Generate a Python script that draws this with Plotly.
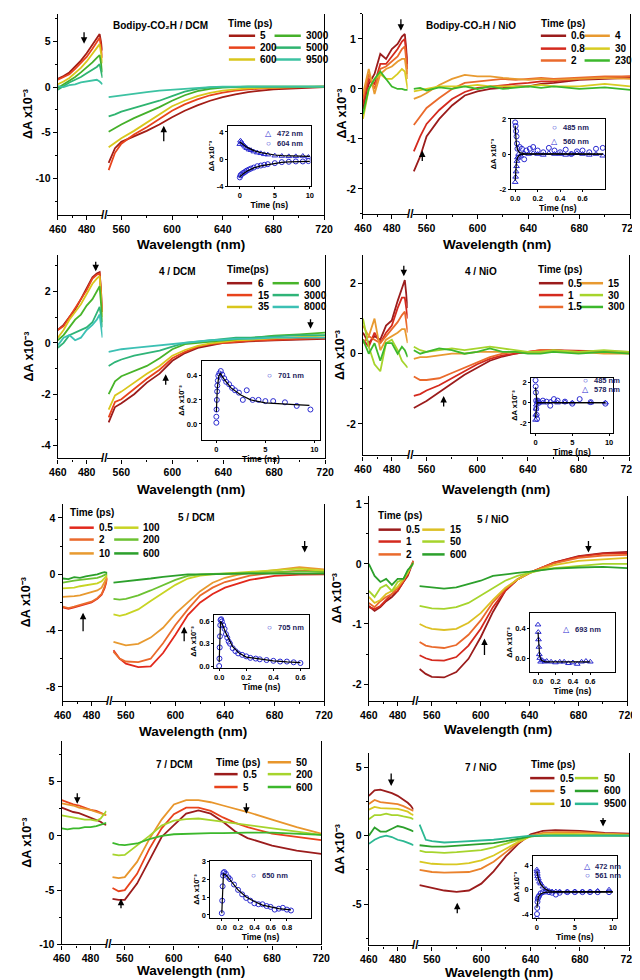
import plotly.graph_objects as go

W, H = 640, 980
FONT = "Liberation Sans, Arial, Helvetica, sans-serif"
BLUE = "#2a2ad0"
NAVY = "#1c1c5c"
YTITLE = "ΔA x10⁻³"

# ---------------- shared wavelength grids ----------------
WL_L = [460, 464, 468, 472, 476, 480, 484, 487, 489, 491]
WL_R = [550, 555, 560, 570, 580, 590, 600, 610, 620, 630, 640, 650, 660, 680, 700, 720]
X_TICKS_L = [460, 480]
X_MINOR_L = [470]
X_TICKS_R = [560, 600, 640, 680, 720]
X_MINOR_R = [580, 620, 660, 700]

# ---------------- Panel 1: Bodipy-CO2H / DCM ----------------
P1_TIMES = ["5", "200", "600", "3000", "5000", "9500"]
P1_LEFT = [
    [0.9, 1.2, 1.6, 2.2, 2.9, 3.7, 4.6, 5.3, 5.8, 4.0],
    [0.8, 1.1, 1.4, 2.0, 2.6, 3.3, 4.2, 4.9, 5.4, 3.2],
    [0.3, 0.6, 1.0, 1.5, 2.1, 2.8, 3.6, 4.3, 4.7, 2.6],
    [-0.1, 0.3, 0.7, 1.1, 1.6, 2.1, 2.7, 3.2, 3.5, 1.6],
    [-0.3, 0.1, 0.5, 0.8, 1.1, 1.5, 1.9, 2.2, 2.5, 1.0],
    [0.1, 0.0, 0.2, 0.3, 0.5, 0.6, 0.7, 0.8, 0.6, 0.3],
]
P1_RIGHT = [
    [-8.3, -6.7, -6.0, -5.4, -4.8, -4.1, -3.3, -2.6, -2.0, -1.5, -1.1, -0.8, -0.55, -0.25, -0.1, 0.0],
    [-9.1, -7.2, -6.2, -5.2, -4.4, -3.5, -2.6, -1.9, -1.35, -0.9, -0.6, -0.4, -0.25, -0.1, 0.0, 0.05],
    [-6.6, -6.1, -5.6, -4.8, -3.9, -3.0, -2.1, -1.5, -1.0, -0.65, -0.4, -0.25, -0.15, -0.05, 0.0, 0.05],
    [-4.9, -4.5, -4.1, -3.4, -2.8, -2.2, -1.5, -0.9, -0.45, -0.2, -0.05, 0.0, 0.05, 0.05, 0.05, 0.05],
    [-3.2, -3.0, -2.7, -2.3, -1.9, -1.5, -1.0, -0.5, -0.2, -0.05, 0.0, 0.05, 0.05, 0.05, 0.05, 0.05],
    [-1.1, -1.0, -0.9, -0.7, -0.55, -0.4, -0.3, -0.15, -0.05, 0.0, 0.05, 0.05, 0.05, 0.05, 0.05, 0.05],
]
P1_YTICKS = [-10, -5, 0, 5]

I1_T = [0, 0.1, 0.2, 0.4, 0.6, 0.8, 1.0, 1.3, 1.6, 2.0, 2.5, 3.0, 3.5, 4.0, 5.0, 6.0, 7.0, 8.0, 9.0, 9.8]
I1_472 = [2.2, 2.7, 2.5, 2.2, 2.0, 1.8, 1.6, 1.4, 1.3, 1.1, 0.95, 0.85, 0.7, 0.65, 0.5, 0.45, 0.4, 0.4, 0.45, 0.3]
I1_604 = [-2.7, -2.4, -2.3, -2.1, -2.0, -1.85, -1.7, -1.55, -1.4, -1.25, -1.05, -0.95, -0.85, -0.75, -0.6, -0.45, -0.4, -0.35, -0.35, -0.3]
I1_FIT_T = [0, 0.2, 0.5, 1, 1.5, 2, 3, 4, 5, 6, 7, 8, 9, 10]
I1_FIT_472 = [2.5, 2.35, 2.1, 1.75, 1.5, 1.25, 0.95, 0.75, 0.6, 0.5, 0.45, 0.42, 0.4, 0.4]
I1_FIT_604 = [-2.6, -2.4, -2.15, -1.8, -1.55, -1.3, -1.0, -0.8, -0.62, -0.5, -0.42, -0.38, -0.35, -0.33]

# ---------------- Panel 2: Bodipy-CO2H / NiO ----------------
P2_TIMES = ["0.6", "0.8", "2", "4", "30", "230"]
P2_LEFT = [
    [-0.4, 0.1, 0.3, 0.7, 0.6, 0.8, 0.9, 1.05, 1.1, 0.5],
    [-0.3, 0.2, 0.1, 0.5, 0.5, 0.65, 0.8, 0.95, 1.0, 0.4],
    [-0.2, 0.3, 0.0, 0.4, 0.45, 0.55, 0.65, 0.8, 0.85, 0.3],
    [-0.1, 0.4, -0.1, 0.3, 0.4, 0.45, 0.55, 0.6, 0.6, 0.2],
    [-0.6, 0.0, 0.2, 0.3, 0.2, 0.2, 0.3, 0.4, 0.35, 0.0],
    [-0.5, 0.0, 0.2, 0.35, 0.2, 0.05, 0.0, 0.0, -0.02, -0.02],
]
P2_RIGHT = [
    [-1.65, -1.35, -0.95, -0.6, -0.33, -0.13, -0.05, 0.0, 0.02, 0.05, 0.05, 0.1, 0.12, 0.18, 0.2, 0.22],
    [-1.25, -0.95, -0.7, -0.42, -0.2, -0.06, 0.02, 0.05, 0.08, 0.1, 0.12, 0.15, 0.15, 0.2, 0.22, 0.25],
    [-0.72, -0.55, -0.38, -0.18, 0.0, 0.12, 0.15, 0.18, 0.2, 0.18, 0.2, 0.22, 0.2, 0.22, 0.25, 0.25],
    [-0.2, -0.15, -0.08, 0.08, 0.2, 0.28, 0.25, 0.25, 0.22, 0.2, 0.18, 0.2, 0.18, 0.2, 0.22, 0.2],
    [-0.05, -0.02, 0.0, 0.05, 0.05, 0.05, 0.08, 0.05, 0.05, 0.05, 0.05, 0.08, 0.05, 0.05, 0.1, 0.05],
    [0.0, 0.02, -0.03, 0.03, 0.0, 0.05, 0.0, 0.05, 0.0, 0.03, 0.05, 0.02, 0.05, 0.0, 0.03, -0.02],
]
P2_YTICKS = [-2, -1, 0, 1]

I2_T485 = [0, 0.004, 0.008, 0.012, 0.016, 0.02, 0.03, 0.04, 0.06, 0.08, 0.1, 0.13, 0.16, 0.2, 0.25, 0.3, 0.35, 0.4, 0.45, 0.5, 0.55, 0.6, 0.66, 0.72, 0.78]
I2_485 = [1.8, 1.6, 1.3, 1.0, 0.6, 0.3, -0.2, 0.4, 0.3, -0.3, 0.2, 0.3, 0.4, 0.2, 0.1, 0.35, 0.2, 0.1, 0.25, 0.0, 0.15, 0.2, 0.1, 0.3, 0.35]
I2_T560 = [0, 0.004, 0.008, 0.012, 0.016, 0.02, 0.03, 0.05, 0.08, 0.12, 0.16, 0.2, 0.25, 0.3, 0.35, 0.4, 0.45, 0.5, 0.55, 0.6, 0.66, 0.72, 0.78]
I2_560 = [-1.6, -1.3, -1.0, -0.7, -0.4, -0.2, 0.0, -0.1, 0.05, 0.0, 0.05, 0.0, -0.05, 0.05, 0.0, 0.0, -0.05, 0.0, 0.05, 0.0, -0.05, 0.0, -0.1]
I2_FIT_T = [0, 0.005, 0.01, 0.02, 0.04, 0.08, 0.78]
I2_FIT_485 = [1.6, 1.0, 0.6, 0.25, 0.08, 0.02, 0.0]
I2_FIT_560 = [-1.5, -0.9, -0.55, -0.2, -0.05, 0.0, 0.0]

# ---------------- Panel 3: 4 / DCM ----------------
P3_TIMES = ["6", "15", "35", "600", "3000", "8000"]
P3_LEFT = [
    [0.5, 0.7, 1.0, 1.3, 1.7, 2.1, 2.55, 2.7, 2.75, 1.2],
    [0.5, 0.65, 1.0, 1.35, 1.7, 2.05, 2.5, 2.65, 2.7, 1.2],
    [0.2, 0.5, 0.9, 1.2, 1.5, 1.9, 2.3, 2.5, 2.6, 1.0],
    [0.1, 0.3, 0.6, 0.9, 1.1, 1.45, 1.7, 2.0, 2.2, 0.8],
    [-0.2, 0.0, 0.3, 0.4, 0.5, 0.6, 0.8, 1.2, 1.4, 0.6],
    [-0.1, 0.2, 0.3, 0.1, 0.2, 0.5, 0.7, 0.9, 1.1, 0.2],
]
P3_RIGHT = [
    [-3.1, -2.5, -2.35, -2.0, -1.55, -1.2, -0.7, -0.4, -0.2, -0.1, 0.0, 0.02, 0.06, 0.1, 0.12, 0.15],
    [-2.9, -2.3, -2.2, -1.8, -1.4, -1.05, -0.6, -0.35, -0.15, -0.05, 0.0, 0.05, 0.08, 0.12, 0.15, 0.18],
    [-2.6, -2.05, -1.9, -1.55, -1.2, -0.9, -0.5, -0.28, -0.12, -0.02, 0.05, 0.1, 0.12, 0.18, 0.22, 0.28],
    [-2.0, -1.5, -1.3, -1.1, -0.9, -0.6, -0.25, -0.05, 0.0, 0.05, 0.1, 0.15, 0.2, 0.28, 0.33, 0.4],
    [-0.9, -0.75, -0.65, -0.5, -0.4, -0.3, -0.15, 0.0, 0.05, 0.1, 0.15, 0.2, 0.2, 0.25, 0.3, 0.3],
    [-0.35, -0.3, -0.25, -0.2, -0.15, -0.1, -0.05, 0.0, 0.05, 0.1, 0.12, 0.15, 0.15, 0.2, 0.2, 0.2],
]
P3_YTICKS = [-4, -2, 0, 2]

I3_T = [0, 0, 0.02, 0.05, 0.08, 0.1, 0.15, 0.2, 0.3, 0.45, 0.6, 0.8, 1.0, 1.3, 1.6, 1.9, 2.3, 2.7, 3.1, 3.7, 4.3, 5.0, 5.8, 7.0, 8.2, 9.6]
I3_701 = [0.01, 0.06, 0.12, 0.2, 0.27, 0.32, 0.36, 0.4, 0.42, 0.44, 0.41, 0.38, 0.35, 0.33, 0.3, 0.28, 0.26, 0.2, 0.28, 0.2, 0.2, 0.19, 0.19, 0.18, 0.15, 0.12]
I3_FIT_T = [0, 0.1, 0.25, 0.4, 0.8, 1.5, 2.5, 3.5, 5, 6.5, 8, 9.5]
I3_FIT_701 = [0.1, 0.3, 0.4, 0.42, 0.37, 0.3, 0.24, 0.2, 0.175, 0.165, 0.16, 0.155]

# ---------------- Panel 4: 4 / NiO ----------------
P4_TIMES = ["0.5", "1", "1.5", "15", "30", "300"]
P4_LEFT = [
    [0.6, 0.3, 0.5, 0.4, 0.8, 0.95, 1.5, 1.9, 2.1, 1.3],
    [0.4, 0.2, 0.6, 0.3, 0.6, 0.8, 1.3, 1.6, 1.6, 1.0],
    [0.3, 0.5, 0.4, 0.3, 0.5, 0.7, 0.9, 1.1, 1.2, 0.6],
    [0.8, 0.5, 1.0, 0.1, 0.4, 0.5, 0.6, 0.7, 0.7, 0.3],
    [1.0, 0.2, -0.3, -0.5, 0.3, 0.4, 0.1, -0.2, -0.3, -0.4],
    [0.4, 0.0, 0.3, -0.2, 0.3, 0.3, 0.0, 0.2, 0.1, -0.1],
]
P4_RIGHT = [
    [-1.55, -1.45, -1.35, -1.1, -0.85, -0.6, -0.4, -0.2, -0.08, 0.0, 0.05, 0.05, 0.1, 0.05, 0.05, 0.05],
    [-1.2, -1.15, -1.05, -0.9, -0.7, -0.5, -0.3, -0.15, -0.05, 0.0, 0.05, 0.1, 0.1, 0.08, 0.05, 0.05],
    [-0.65, -0.75, -0.75, -0.7, -0.55, -0.4, -0.25, -0.1, 0.0, 0.05, 0.05, 0.1, 0.1, 0.05, 0.05, 0.05],
    [-0.15, -0.1, -0.1, -0.05, 0.0, 0.0, 0.05, 0.05, 0.05, 0.05, 0.05, 0.05, 0.05, 0.05, 0.0, 0.0],
    [0.2, 0.1, 0.05, 0.1, 0.15, 0.1, 0.15, 0.2, 0.15, 0.1, 0.05, 0.05, 0.1, 0.05, 0.1, 0.05],
    [0.1, 0.0, 0.05, 0.15, 0.1, 0.0, 0.05, 0.15, 0.05, 0.05, 0.0, 0.0, 0.05, 0.0, 0.05, 0.0],
]
P4_YTICKS = [-2, 0, 2]

I4_T485 = [0, 0.02, 0.05, 0.08, 0.1, 0.15, 0.2, 0.3, 0.5, 1.0, 1.5, 2.0, 2.5, 3.0, 4.0, 5.0, 6.0, 7.5, 9.5]
I4_485 = [2.2, 1.6, 1.0, 0.2, -0.6, -1.2, -1.6, 0.2, 0.0, 0.2, 0.1, -0.3, 0.35, 0.2, 0.1, -0.1, 0.35, 0.05, -0.1]
I4_T578 = [0, 0.03, 0.06, 0.1, 0.2, 0.3, 0.6, 1.0, 2.0, 3.0, 4.0, 5.0, 7.5, 9.5]
I4_578 = [-1.7, -1.2, -0.6, -0.2, 0.1, 0.0, 0.05, 0.0, 0.1, 0.0, 0.05, 0.0, 0.0, 0.0]
I4_FIT_T = [0, 0.05, 0.1, 0.2, 0.3, 9.5]
I4_FIT_485 = [1.5, 0.8, 0.3, 0.05, 0.0, 0.0]
I4_FIT_578 = [-1.5, -0.8, -0.3, -0.05, 0.0, 0.0]

# ---------------- Panel 5: 5 / DCM ----------------
P5_TIMES = ["0.5", "2", "10", "100", "200", "600"]
P5_LEFT = [
    [-2.35, -2.45, -2.35, -2.25, -2.15, -2.0, -1.75, -1.45, -1.0, -0.3],
    [-2.3, -2.4, -2.3, -2.2, -2.1, -1.95, -1.7, -1.4, -0.9, -0.25],
    [-1.6, -1.6, -1.55, -1.5, -1.4, -1.3, -1.15, -0.95, -0.6, -0.15],
    [-1.0, -1.0, -0.95, -0.85, -0.8, -0.75, -0.65, -0.5, -0.3, -0.05],
    [-0.6, -0.5, -0.45, -0.4, -0.35, -0.3, -0.25, -0.15, -0.05, 0.05],
    [-0.3, -0.35, -0.2, -0.25, -0.15, -0.1, 0.0, 0.1, 0.15, 0.1],
]
P5_RIGHT = [
    [-5.4, -6.0, -6.35, -6.6, -6.55, -5.6, -4.3, -2.9, -2.0, -1.4, -0.95, -0.65, -0.4, -0.12, -0.02, 0.0],
    [-5.5, -6.0, -6.2, -6.25, -6.0, -4.9, -3.6, -2.5, -1.5, -0.95, -0.55, -0.3, -0.1, 0.12, 0.25, 0.2],
    [-4.8, -4.95, -5.05, -4.95, -4.5, -3.8, -2.8, -2.0, -1.2, -0.6, -0.25, -0.05, 0.1, 0.3, 0.5, 0.35],
    [-2.85, -2.95, -2.85, -2.5, -1.9, -1.3, -0.75, -0.3, -0.1, 0.0, 0.05, 0.1, 0.15, 0.3, 0.4, 0.25],
    [-1.75, -1.8, -1.75, -1.5, -1.15, -0.75, -0.4, -0.12, 0.0, 0.02, 0.05, 0.1, 0.1, 0.15, 0.2, 0.15],
    [-0.6, -0.55, -0.55, -0.45, -0.3, -0.18, -0.08, 0.0, 0.0, 0.02, 0.05, 0.05, 0.05, 0.05, 0.05, 0.05],
]
P5_YTICKS = [-8, -4, 0, 4]

I5_T = [0, 0.002, 0.004, 0.006, 0.008, 0.01, 0.015, 0.02, 0.03, 0.04, 0.05, 0.06, 0.07, 0.08, 0.1, 0.12, 0.14, 0.17, 0.2, 0.23, 0.27, 0.3, 0.35, 0.4, 0.45, 0.5, 0.55, 0.6]
I5_705 = [0.0, 0.1, 0.25, 0.4, 0.55, 0.62, 0.63, 0.6, 0.55, 0.5, 0.43, 0.38, 0.33, 0.3, 0.24, 0.2, 0.17, 0.15, 0.13, 0.11, 0.1, 0.09, 0.08, 0.07, 0.06, 0.06, 0.05, 0.04]
I5_FIT_T = [0, 0.01, 0.02, 0.05, 0.1, 0.15, 0.2, 0.3, 0.4, 0.5, 0.6]
I5_FIT_705 = [0.05, 0.6, 0.58, 0.44, 0.26, 0.17, 0.12, 0.09, 0.07, 0.055, 0.045]

# ---------------- Panel 6: 5 / NiO ----------------
P6_TIMES = ["0.5", "1", "2", "15", "50", "600"]
P6_LEFT = [
    [-0.70, -0.78, -0.72, -0.62, -0.55, -0.45, -0.3, -0.2, -0.07, 0.05],
    [-0.72, -0.75, -0.7, -0.6, -0.5, -0.45, -0.3, -0.18, -0.05, 0.05],
    [-0.65, -0.72, -0.62, -0.55, -0.5, -0.4, -0.28, -0.15, -0.05, 0.05],
    [-0.55, -0.65, -0.6, -0.5, -0.45, -0.38, -0.25, -0.15, -0.05, 0.02],
    [-0.45, -0.55, -0.4, -0.35, -0.45, -0.3, -0.25, -0.12, -0.05, 0.0],
    [0.0, -0.2, -0.3, -0.25, -0.35, -0.25, -0.25, -0.1, -0.05, 0.02],
]
P6_RIGHT = [
    [-1.75, -1.83, -1.88, -1.89, -1.8, -1.58, -1.22, -0.8, -0.45, -0.26, -0.15, -0.07, 0.02, 0.13, 0.18, 0.2],
    [-1.52, -1.57, -1.6, -1.61, -1.55, -1.36, -1.08, -0.72, -0.45, -0.26, -0.15, -0.06, 0.02, 0.12, 0.17, 0.18],
    [-1.3, -1.36, -1.38, -1.4, -1.35, -1.18, -0.94, -0.64, -0.42, -0.26, -0.15, -0.06, 0.01, 0.1, 0.14, 0.15],
    [-1.0, -1.05, -1.08, -1.1, -1.08, -0.98, -0.82, -0.6, -0.4, -0.26, -0.15, -0.08, -0.02, 0.05, 0.08, 0.1],
    [-0.7, -0.72, -0.74, -0.75, -0.72, -0.65, -0.53, -0.4, -0.28, -0.2, -0.15, -0.1, -0.07, -0.03, 0.0, 0.0],
    [-0.37, -0.38, -0.4, -0.41, -0.39, -0.34, -0.28, -0.2, -0.17, -0.15, -0.13, -0.1, -0.08, -0.06, -0.05, -0.07],
]
P6_YTICKS = [-2, -1, 0, 1]

I6_T = [0, 0.003, 0.006, 0.01, 0.015, 0.02, 0.03, 0.05, 0.08, 0.1, 0.15, 0.2, 0.25, 0.3, 0.35, 0.4, 0.45, 0.5, 0.55, 0.6]
I6_693 = [0.45, 0.35, 0.25, 0.15, 0.05, 0.0, -0.05, -0.03, -0.05, -0.04, -0.05, -0.06, -0.05, -0.05, -0.07, -0.06, -0.08, -0.05, -0.04, -0.05]
I6_FIT_T = [0, 0.01, 0.02, 0.04, 0.08, 0.6]
I6_FIT_693 = [0.35, 0.12, 0.02, -0.03, -0.05, -0.05]

# ---------------- Panel 7: 7 / DCM ----------------
P7_TIMES = ["0.5", "5", "50", "200", "600"]
P7_LEFT = [
    [2.6, 2.4, 2.2, 2.1, 1.9, 1.7, 1.5, 1.3, 1.1, 1.0],
    [3.3, 3.1, 2.9, 2.8, 2.6, 2.4, 2.3, 2.1, 2.0, 1.9],
    [3.0, 2.9, 2.8, 2.6, 2.5, 2.4, 2.2, 2.1, 2.0, 1.9],
    [1.9, 1.8, 1.7, 1.6, 1.5, 1.5, 1.4, 1.6, 1.9, 2.3],
    [0.7, 0.6, 0.7, 0.7, 0.8, 0.8, 0.9, 1.0, 1.1, 1.2],
]
P7_RIGHT = [
    [-5.8, -5.9, -5.9, -4.4, -2.25, -0.1, 1.0, 2.05, 2.35, 2.05, 1.3, 0.4, -0.2, -0.9, -1.35, -1.65],
    [-4.8, -5.1, -5.0, -3.5, -1.2, 0.7, 2.0, 2.6, 2.6, 2.3, 1.7, 1.2, 0.8, 0.2, -0.1, -0.4],
    [-3.8, -3.9, -3.8, -2.4, -0.3, 1.5, 2.9, 3.3, 3.3, 3.1, 2.8, 2.5, 2.2, 1.5, 0.8, 0.2],
    [-1.7, -1.8, -1.75, -0.9, 0.0, 0.95, 1.4, 1.55, 1.6, 1.45, 1.3, 1.15, 1.0, 0.7, 0.4, 0.1],
    [-0.65, -0.8, -0.85, -0.7, -0.3, 0.0, 0.15, 0.2, 0.25, 0.25, 0.25, 0.3, 0.3, 0.3, 0.2, 0.1],
]
P7_YTICKS = [-10, -5, 0, 5]

I7_T = [0, 0.005, 0.01, 0.015, 0.02, 0.03, 0.05, 0.08, 0.1, 0.15, 0.2, 0.25, 0.3, 0.35, 0.4, 0.45, 0.5, 0.55, 0.6, 0.65, 0.7, 0.75, 0.8, 0.85]
I7_650 = [0.1, 0.8, 1.6, 2.2, 2.35, 2.4, 2.3, 2.1, 2.0, 1.7, 1.4, 1.15, 0.95, 0.8, 0.65, 0.6, 0.6, 0.5, 0.45, 0.3, 0.35, 0.4, 0.3, 0.25]
I7_FIT_T = [0, 0.02, 0.05, 0.1, 0.2, 0.3, 0.4, 0.5, 0.6, 0.7, 0.85]
I7_FIT_650 = [0.1, 2.3, 2.25, 1.95, 1.4, 1.0, 0.75, 0.55, 0.45, 0.35, 0.28]

# ---------------- Panel 8: 7 / NiO ----------------
P8_TIMES = ["0.5", "5", "10", "50", "600", "9500"]
P8_LEFT = [
    [2.9, 3.3, 3.35, 3.25, 3.1, 2.9, 2.65, 2.4, 2.2, 1.9],
    [2.3, 2.6, 2.45, 2.4, 2.35, 2.3, 2.15, 2.0, 1.9, 1.8],
    [1.9, 2.1, 2.0, 2.0, 2.0, 1.95, 1.85, 1.75, 1.6, 1.5],
    [1.2, 1.5, 1.5, 1.6, 1.5, 1.5, 1.4, 1.35, 1.3, 1.2],
    [0.0, 0.6, 0.3, 0.3, 0.5, 0.7, 0.6, 0.5, 0.4, 0.3],
    [-0.6, -0.3, -0.1, 0.0, -0.1, -0.3, -0.4, -0.5, -0.6, -0.7],
]
P8_RIGHT = [
    [-3.6, -3.7, -3.8, -4.0, -4.1, -4.0, -3.5, -2.6, -1.5, -0.6, 0.1, 0.35, 0.4, 0.35, 0.2, 0.15],
    [-2.5, -2.6, -2.65, -2.7, -2.7, -2.65, -2.4, -1.9, -1.2, -0.5, 0.0, 0.2, 0.25, 0.25, 0.15, 0.1],
    [-1.9, -2.0, -2.05, -2.1, -2.1, -2.0, -1.8, -1.45, -0.95, -0.45, -0.05, 0.1, 0.15, 0.15, 0.1, 0.05],
    [-1.1, -1.2, -1.2, -1.25, -1.2, -1.15, -1.05, -0.85, -0.6, -0.3, -0.05, 0.0, 0.05, 0.05, 0.05, 0.0],
    [-0.7, -0.75, -0.8, -0.8, -0.75, -0.7, -0.65, -0.55, -0.4, -0.2, -0.05, 0.0, 0.0, 0.0, 0.0, 0.0],
    [0.8, -0.3, -0.4, -0.5, -0.45, -0.4, -0.4, -0.3, -0.2, -0.1, 0.0, 0.0, 0.0, 0.0, 0.0, 0.0],
]
P8_YTICKS = [-5, 0, 5]

I8_T472 = [0, 0.03, 0.06, 0.1, 0.2, 0.35, 0.5, 0.8, 1.2, 1.6, 2.0, 2.5, 3.0, 4.0, 5.0, 6.0, 7.0, 8.0, 9.5]
I8_472 = [3.3, 3.0, 2.6, 2.2, 1.8, 1.3, 1.0, 0.5, 0.1, -0.2, -0.3, -0.3, -0.3, -0.35, -0.3, -0.3, -0.3, -0.2, 0.0]
I8_T561 = [0, 0.02, 0.05, 0.08, 0.12, 0.2, 0.3, 0.5, 0.8, 1.2, 1.6, 2.0, 2.5, 3.0, 4.0, 5.0, 6.0, 7.0, 8.0, 9.5]
I8_561 = [-4.8, -4.0, -3.0, -2.0, -1.5, -1.2, -1.0, -0.6, -0.4, -0.3, -0.4, -0.5, -0.8, -0.5, -0.4, -0.4, -0.4, -0.4, -0.4, -0.4]
I8_FIT_T = [0, 0.2, 0.5, 1, 1.5, 2, 3, 10]
I8_FIT_472 = [3.0, 1.8, 0.9, 0.2, -0.15, -0.25, -0.3, -0.3]
I8_FIT_561 = [-3.0, -1.2, -0.7, -0.45, -0.4, -0.4, -0.4, -0.4]

TRI, CIR = "triangle-up-open", "circle-open"

# ---------------- layout / style configuration (pixels) ----------------
PANELS = [
    dict(times=P1_TIMES, left=P1_LEFT, right=P1_RIGHT, yticks=P1_YTICKS,
         colors=['#a31d16', '#e8431c', '#d9c61c', '#45b02a', '#2fb470', '#3cc2a2'],
         box=(42, 316, 2, 205), yrange=(-14, 8), yminor=2.5,
         title=('Bodipy-CO₂H / DCM', 148, 14), ytx=12, xty=235,
         leghead=('Time (ps)', 240, 12), cols=[(218, 245, 248), (265, 292, 295)],
         pos=[(0, 24), (0, 36), (0, 48), (1, 24), (1, 36), (1, 48)],
         arrows=[(69, 19, 69, 32), (151, 132, 151, 115)],
         inset=dict(box=(217, 115, 302, 176), xr=(-1.7, 10.1), yr=(-4, 4.9),
                    xt=[0, 5, 10], xtt=['0', '5', '10'], yt=[-4, 0, 4], ytt=['-4', '0', '4'],
                    series=[(I1_T, I1_472, TRI), (I1_T, I1_604, CIR)],
                    fits=[(I1_FIT_T, I1_FIT_472), (I1_FIT_T, I1_FIT_604)],
                    leg=[('△', '472 nm', 123), ('○', '604 nm', 133)], legx=(259, 265))),
    dict(times=P2_TIMES, left=P2_LEFT, right=P2_RIGHT, yticks=P2_YTICKS,
         colors=['#9b1c1c', '#d42a1e', '#ea6a2c', '#e89a30', '#d8cc22', '#3cb82c'],
         box=(356, 631, 2, 204), yrange=(-2.5, 1.5), yminor=0.5,
         title=('Bodipy-CO₂H / NiO', 467, 14), ytx=334, xty=235,
         leghead=('Time (ps)', 562, 12), cols=[(539, 565, 568), (584, 610, 613)],
         pos=[(0, 24), (0, 37), (0, 49), (1, 24), (1, 37), (1, 49)],
         arrows=[(395, 6, 395, 19), (417, 152, 417, 140)],
         inset=dict(box=(508, 108, 605, 179), xr=(-0.04, 0.8), yr=(-2, 2),
                    xt=[0, 0.2, 0.4, 0.6], xtt=['0.0', '0.2', '0.4', '0.6'], yt=[-2, 0, 2], ytt=['-2', '0', '2'],
                    series=[(I2_T485, I2_485, CIR), (I2_T560, I2_560, TRI)],
                    fits=[(I2_FIT_T, I2_FIT_485), (I2_FIT_T, I2_FIT_560)],
                    leg=[('○', '485 nm', 117), ('△', '560 nm', 131)], legx=(553, 560))),
    dict(times=P3_TIMES, left=P3_LEFT, right=P3_RIGHT, yticks=P3_YTICKS,
         colors=['#9b1c1c', '#e8431c', '#d9c61c', '#48b42a', '#2fb478', '#3cc0b4'],
         box=(42, 317, 246, 451), yrange=(-4.5, 3.4), yminor=1,
         title=('4 / DCM', 165, 262), ytx=12, xty=482,
         leghead=('Time(ps)', 238, 260), cols=[(216, 242, 246), (263, 290, 293)],
         pos=[(0, 274), (0, 286), (0, 298), (1, 274), (1, 286), (1, 298)],
         arrows=[(81, 251, 81, 262), (153, 378, 153, 366), (302, 309, 302, 320)],
         inset=dict(box=(190, 353, 312, 432), xr=(-1.5, 10.6), yr=(-0.13, 0.52),
                    xt=[0, 5, 10], xtt=['0', '5', '10'], yt=[0, 0.2, 0.4], ytt=['0.0', '0.2', '0.4'],
                    series=[(I3_T, I3_701, CIR)], fits=[(I3_FIT_T, I3_FIT_701)],
                    leg=[('○', '701 nm', 367)], legx=(260, 267))),
    dict(times=P4_TIMES, left=P4_LEFT, right=P4_RIGHT, yticks=P4_YTICKS,
         colors=['#9b1c1c', '#d42a1e', '#ea6a2c', '#e89a30', '#a6d42c', '#3cb82c'],
         box=(356, 630, 246, 448), yrange=(-2.9, 2.8), yminor=1,
         title=('4 / NiO', 477, 262), ytx=333, xty=482,
         leghead=('Time (ps)', 559, 260), cols=[(537, 562, 565), (579, 603, 606)],
         pos=[(0, 274), (0, 286), (0, 298), (1, 274), (1, 286), (1, 298)],
         arrows=[(398, 255, 398, 267), (439, 400, 439, 388)],
         inset=dict(box=(529, 370, 613, 425), xr=(-0.6, 10.5), yr=(-2.95, 2.4),
                    xt=[0, 5, 10], xtt=['0', '5', '10'], yt=[-2, 0, 2], ytt=['-2', '0', '2'],
                    series=[(I4_T485, I4_485, CIR), (I4_T578, I4_578, TRI)],
                    fits=[(I4_FIT_T, I4_FIT_485), (I4_FIT_T, I4_FIT_578)],
                    leg=[('○', '485 nm', 372), ('△', '578 nm', 381)], legx=(585, 592))),
    dict(times=P5_TIMES, left=P5_LEFT, right=P5_RIGHT, yticks=P5_YTICKS,
         colors=['#e2281c', '#ea6a2c', '#e89a30', '#c8d424', '#6cc232', '#2ca02c'],
         box=(47, 316, 497, 696), yrange=(-9, 5), yminor=2,
         title=('5 / DCM', 185, 511), ytx=10, xty=727,
         leghead=('Time (ps)', 77, 506), cols=[(54, 79, 82), (100, 125, 128)],
         pos=[(0, 521), (0, 533), (0, 547), (1, 521), (1, 533), (1, 547)],
         arrows=[(68, 627, 68, 607), (172, 637, 172, 621), (296, 533, 296, 546)],
         inset=dict(box=(203, 609, 300, 663), xr=(-0.036, 0.66), yr=(-0.03, 0.69),
                    xt=[0, 0.2, 0.4, 0.6], xtt=['0.0', '0.2', '0.4', '0.6'], yt=[0, 0.3, 0.6], ytt=['0.0', '0.3', '0.6'],
                    series=[(I5_T, I5_705, CIR)], fits=[(I5_FIT_T, I5_FIT_705)],
                    leg=[('○', '705 nm', 622)], legx=(260, 267))),
    dict(times=P6_TIMES, left=P6_LEFT, right=P6_RIGHT, yticks=P6_YTICKS,
         colors=['#9b1c1c', '#d42a1e', '#ea6a2c', '#dcc024', '#a6d42c', '#2ca02c'],
         box=(362, 628, 489, 696), yrange=(-2.28, 1.13), yminor=0.5,
         title=('5 / NiO', 490, 513), ytx=330, xty=725,
         leghead=('Time (ps)', 394, 509), cols=[(372, 395, 398), (417, 440, 443)],
         pos=[(0, 523), (0, 535), (0, 548), (1, 523), (1, 535), (1, 548)],
         arrows=[(481, 651, 481, 633), (588, 533, 588, 546)],
         inset=dict(box=(528, 607, 615, 667), xr=(-0.09, 0.88), yr=(-0.19, 0.61),
                    xt=[0, 0.2, 0.4, 0.6], xtt=['0.0', '0.2', '0.4', '0.6'], yt=[0, 0.4], ytt=['0.0', '0.4'],
                    series=[(I6_T, I6_693, TRI)], fits=[(I6_FIT_T, I6_FIT_693)],
                    leg=[('△', '693 nm', 624)], legx=(565, 572))),
    dict(times=P7_TIMES, left=P7_LEFT, right=P7_RIGHT, yticks=P7_YTICKS,
         colors=['#9b1c1c', '#e8431c', '#e8962c', '#a6d42c', '#3cb82c'],
         box=(46, 313, 737, 942), yrange=(-10, 8.7), yminor=2.5,
         title=('7 / DCM', 162, 760), ytx=10, xty=968,
         leghead=('Time (ps)', 227, 758), cols=[(203, 227, 230), (258, 282, 285)],
         pos=[(0, 770), (0, 783), (1, 758), (1, 770), (1, 783)],
         arrows=[(62, 788, 62, 800), (107, 907, 107, 896), (236, 798, 236, 810)],
         inset=dict(box=(199, 858, 302, 915), xr=(-0.14, 1.09), yr=(-0.15, 3.0),
                    xt=[0, 0.2, 0.4, 0.6, 0.8], xtt=['0.0', '0.2', '0.4', '0.6', '0.8'], yt=[0, 1, 2, 3], ytt=['0', '1', '2', '3'],
                    series=[(I7_T, I7_650, CIR)], fits=[(I7_FIT_T, I7_FIT_650)],
                    leg=[('○', '650 nm', 872)], legx=(243, 250))),
    dict(times=P8_TIMES, left=P8_LEFT, right=P8_RIGHT, yticks=P8_YTICKS,
         colors=['#9b1c1c', '#ea822c', '#d8c822', '#a6d42c', '#2ca02c', '#2cb892'],
         box=(362, 630, 749, 943), yrange=(-8, 6), yminor=2.5,
         title=('7 / NiO', 477, 763), ytx=333, xty=970,
         leghead=('Time (ps)', 552, 760), cols=[(528, 553, 557), (574, 598, 602)],
         pos=[(0, 774), (0, 787), (0, 800), (1, 774), (1, 787), (1, 800)],
         arrows=[(385, 768, 385, 782), (453, 912, 453, 900), (603, 813, 603, 823)],
         inset=dict(box=(531, 853, 617, 915), xr=(-0.5, 10.5), yr=(-4.6, 5.5),
                    xt=[0, 5, 10], xtt=['0', '5', '10'], yt=[-4, 0, 4], ytt=['-4', '0', '4'],
                    series=[(I8_T472, I8_472, TRI), (I8_T561, I8_561, CIR)],
                    fits=[(I8_FIT_T, I8_FIT_472), (I8_FIT_T, I8_FIT_561)],
                    leg=[('△', '472 nm', 863), ('○', '561 nm', 872)], legx=(587, 593))),
]


def X(px):
    return px / W


def Y(py):
    return 1 - py / H


def axn(kind, i):
    return f"{kind}axis" + ("" if i == 1 else str(i))


def ref(kind, i):
    return kind + ("" if i == 1 else str(i))


def fmt(v):
    return "%g" % v


fig = go.Figure()
layout = dict(width=W, height=H, margin=dict(l=0, r=0, t=0, b=0),
              paper_bgcolor='white', plot_bgcolor='white', showlegend=False,
              font=dict(family=FONT, color='black'))
annotations = []
shapes = []

TICKFONT = dict(family=FONT, size=10.5, color='black', weight='bold')
MAIN = dict(showline=True, linecolor='black', linewidth=1.3, ticks='outside', ticklen=4,
            tickwidth=1.2, tickcolor='black', showgrid=False, zeroline=False, tickfont=TICKFONT)
MINOR = dict(ticks='outside', ticklen=2, tickwidth=1, tickcolor='black', showgrid=False)
INSET = dict(showline=True, mirror=True, linecolor='black', linewidth=1, ticks='outside', ticklen=2,
             tickwidth=1, tickcolor='black', showgrid=False, zeroline=False,
             tickfont=dict(family=FONT, size=7.5, color='black', weight='bold'))


def text(x, y, s, size, color='black', xanchor='center', angle=0):
    annotations.append(dict(x=X(x), y=Y(y), xref='paper', yref='paper', text=s, showarrow=False,
                            font=dict(family=FONT, size=size, color=color), xanchor=xanchor,
                            yanchor='middle', textangle=angle))


n = 0
for p in PANELS:
    L, R, T, B = p['box']
    n += 1
    iL = n
    n += 1
    iR = n
    layout[axn('x', iL)] = dict(MAIN, domain=[X(L), X(L + 46)], range=[460, 491], anchor=ref('y', iL),
                                tickmode='array', tickvals=X_TICKS_L, ticktext=[str(v) for v in X_TICKS_L],
                                minor=dict(MINOR, tickmode='array', tickvals=X_MINOR_L))
    layout[axn('x', iR)] = dict(MAIN, domain=[X(L + 51), X(R)], range=[549, 720], anchor=ref('y', iR),
                                tickmode='array', tickvals=X_TICKS_R, ticktext=[str(v) for v in X_TICKS_R],
                                minor=dict(MINOR, tickmode='array', tickvals=X_MINOR_R))
    layout[axn('y', iL)] = dict(MAIN, domain=[Y(B), Y(T)], range=list(p['yrange']), anchor=ref('x', iL),
                                tickmode='array', tickvals=p['yticks'], ticktext=[fmt(v) for v in p['yticks']],
                                minor=dict(MINOR, tickmode='linear', tick0=0, dtick=p['yminor']))
    layout[axn('y', iR)] = dict(domain=[Y(B), Y(T)], range=list(p['yrange']), matches=ref('y', iL),
                                anchor=ref('x', iR), side='right', showline=True, linecolor='black',
                                linewidth=1.3, ticks='', showticklabels=False, showgrid=False, zeroline=False)

    for k, name in enumerate(p['times']):
        c = p['colors'][k]
        fig.add_trace(go.Scatter(x=WL_L, y=p['left'][k], xaxis=ref('x', iL), yaxis=ref('y', iL),
                                 mode='lines', line=dict(color=c, width=1.8), name=name + ' ps'))
        fig.add_trace(go.Scatter(x=WL_R, y=p['right'][k], xaxis=ref('x', iR), yaxis=ref('y', iR),
                                 mode='lines', line=dict(color=c, width=1.8), name=name + ' ps'))

    # axis break mark, titles
    text(L + 48.5, B, '<b>//</b>', 12)
    text((L + R) / 2, p['xty'], '<b>Wavelength (nm)</b>', 13.5)
    text(p['ytx'], (T + B) / 2, '<b>' + YTITLE + '</b>', 12.5, angle=-90)
    ttl, tx, ty = p['title']
    text(tx, ty, '<b>' + ttl + '</b>', 10)

    # legend (compact, like the original)
    head, hx, hy = p['leghead']
    text(hx, hy, '<b>' + head + '</b>', 10)
    for k, name in enumerate(p['times']):
        col, ry = p['pos'][k]
        x1, x2, xt = p['cols'][col]
        shapes.append(dict(type='line', xref='paper', yref='paper', x0=X(x1), x1=X(x2), y0=Y(ry), y1=Y(ry),
                           line=dict(color=p['colors'][k], width=2.5)))
        text(xt, ry, '<b>' + name + '</b>', 10, xanchor='left')

    # evolution arrows
    for (sx, sy, tx2, ty2) in p['arrows']:
        annotations.append(dict(x=X(tx2), y=Y(ty2), xref='paper', yref='paper', ax=sx - tx2, ay=sy - ty2,
                                text='', showarrow=True, arrowhead=2, arrowsize=1, arrowwidth=1.3,
                                arrowcolor='black'))

    # inset
    ins = p['inset']
    n += 1
    ii = n
    x0, y0, x1, y1 = ins['box']
    layout[axn('x', ii)] = dict(INSET, domain=[X(x0), X(x1)], range=list(ins['xr']), anchor=ref('y', ii),
                                tickmode='array', tickvals=ins['xt'], ticktext=ins['xtt'],
                                title=dict(text='<b>Time (ns)</b>', font=dict(family=FONT, size=8.5), standoff=1))
    layout[axn('y', ii)] = dict(INSET, domain=[Y(y1), Y(y0)], range=list(ins['yr']), anchor=ref('x', ii),
                                tickmode='array', tickvals=ins['yt'], ticktext=ins['ytt'],
                                title=dict(text='<b>' + YTITLE + '</b>', font=dict(family=FONT, size=7.5), standoff=1))
    for (tt, vv, sym) in ins['series']:
        fig.add_trace(go.Scatter(x=tt, y=vv, xaxis=ref('x', ii), yaxis=ref('y', ii), mode='markers',
                                 marker=dict(symbol=sym, size=5, color=BLUE, line=dict(width=1, color=BLUE))))
    for (tt, vv) in ins['fits']:
        fig.add_trace(go.Scatter(x=tt, y=vv, xaxis=ref('x', ii), yaxis=ref('y', ii), mode='lines',
                                 line=dict(color='black', width=1.2)))
    mx, lx = ins['legx']
    for (sym, lab, ly) in ins['leg']:
        text(mx, ly, sym, 8, color=BLUE)
        text(lx, ly, '<b>' + lab + '</b>', 7.5, color=NAVY, xanchor='left')

layout['annotations'] = annotations
layout['shapes'] = shapes
fig.update_layout(**layout)
fig.write_html("out.html")
